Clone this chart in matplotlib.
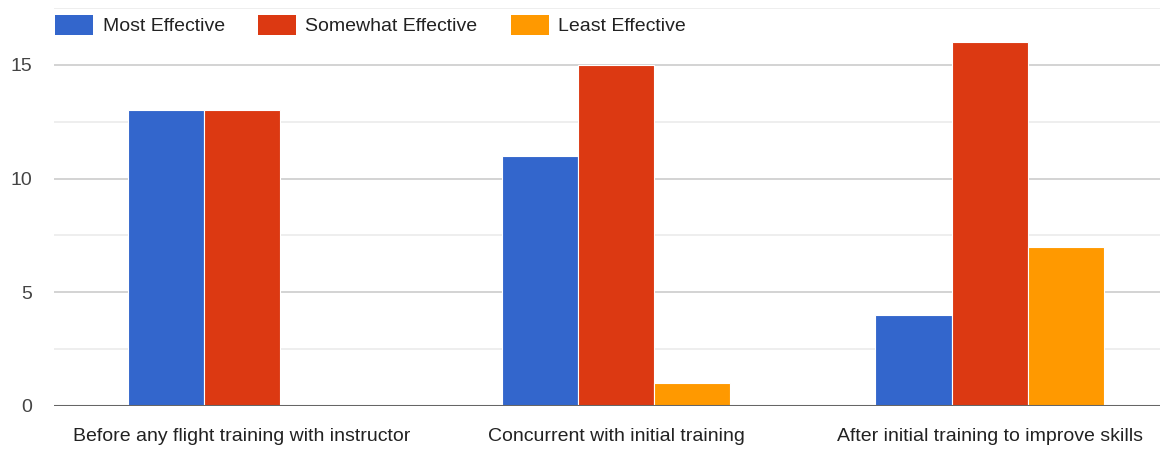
import numpy as np
import matplotlib.pyplot as plt
from matplotlib.patches import Patch

plt.rcParams['font.family'] = ['Liberation Sans', 'DejaVu Sans']

categories = ['Before any flight training with instructor',
              'Concurrent with initial training',
              'After initial training to improve skills']
series = ['Most Effective', 'Somewhat Effective', 'Least Effective']
most = [13, 11, 4]
somewhat = [13, 15, 16]
least = [0, 1, 7]
colors = ['#3366cc', '#dc3912', '#ff9900']

fig = plt.figure(figsize=(11.6, 4.51), dpi=100)
ax = fig.add_axes([54/1160, 45/451, 1106/1160, 398/451])

x = np.arange(len(categories))
w = 0.204
for i, (vals, c) in enumerate(zip([most, somewhat, least], colors)):
    ax.bar(x + (i - 1) * w, vals, width=w, color=c, edgecolor='white',
           linewidth=0.8, zorder=3)

ax.set_xlim(-0.503, 2.455)
ax.set_ylim(0, 17.5)
ax.set_yticks([0, 5, 10, 15])
ax.set_yticks([2.5, 7.5, 12.5, 17.5], minor=True)
ax.grid(axis='y', which='major', color='#cccccc', linewidth=1.2, zorder=0)
ax.grid(axis='y', which='minor', color='#ebebeb', linewidth=1.2, zorder=0)
ax.axhline(0, color='#666666', linewidth=2.2, zorder=4)

for s in ax.spines.values():
    s.set_visible(False)
ax.tick_params(axis='both', which='both', length=0, labelsize=14,
               colors='#444444')
ax.tick_params(axis='x', pad=16, colors='#222222')
ax.tick_params(axis='y', pad=16)
ax.set_xticks(x)
ax.set_xticklabels(categories)

handles = [Patch(facecolor=c, label=s) for c, s in zip(colors, series)]
fig.legend(handles=handles, loc='center left',
           bbox_to_anchor=(55/1160, 1 - 25/451),
           ncol=3, frameon=False, fontsize=14, handlelength=1.95,
           handleheight=1.2, columnspacing=1.7, handletextpad=0.5,
           borderpad=0, borderaxespad=0, labelcolor='#222222')

fig.savefig('out.png', dpi=100, facecolor='white')
